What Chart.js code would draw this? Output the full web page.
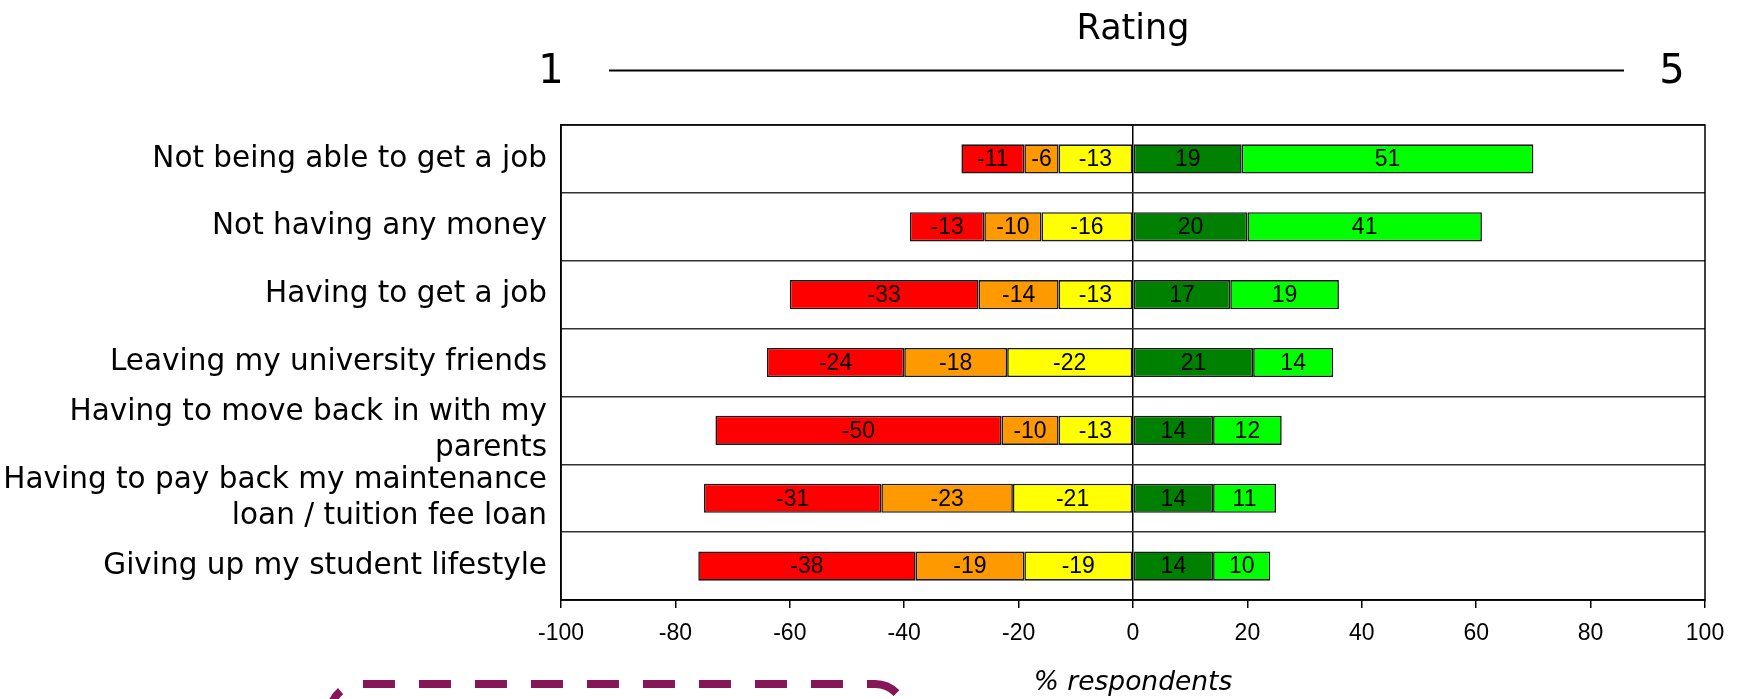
<!DOCTYPE html>
<html><head><meta charset="utf-8">
<script src="https://cdn.jsdelivr.net/npm/chart.js@4.4.0/dist/chart.umd.min.js"></script>
<style>html,body{margin:0;padding:0;background:#fff;overflow:hidden}#wrap{width:1742px;height:699px;position:relative}</style>
</head><body><div id="wrap"><canvas id="c" width="1742" height="699"></canvas></div>
<script>
const categories = [
  "Not being able to get a job",
  "Not having any money",
  "Having to get a job",
  "Leaving my university friends",
  ["Having to move back in with my", "parents"],
  ["Having to pay back my maintenance", "loan / tuition fee loan"],
  "Giving up my student lifestyle"
];
// negative side (stacked outward from zero): rating 3, rating 2, rating 1
const rating3 = [-13, -16, -13, -22, -13, -21, -19];
const rating2 = [-6, -10, -14, -18, -10, -23, -19];
const rating1 = [-11, -13, -33, -24, -50, -31, -38];
// positive side: rating 4, rating 5
const rating4 = [19, 20, 17, 21, 14, 14, 14];
const rating5 = [51, 41, 19, 14, 12, 11, 10];
const xMin = -100, xMax = 100, xStep = 20;
const ratingLow = "1", ratingHigh = "5", ratingTitle = "Rating";
const xTitle = "% respondents";

const labelPlugin = {
  id: 'barLabels',
  afterDatasetsDraw(chart) {
    const ctx = chart.ctx;
    ctx.save();
    ctx.font = '23px "Liberation Sans", Arial, sans-serif';
    ctx.fillStyle = '#000';
    ctx.textAlign = 'center';
    ctx.textBaseline = 'middle';
    chart.data.datasets.forEach((ds, i) => {
      const meta = chart.getDatasetMeta(i);
      meta.data.forEach((el, j) => {
        const p = el.getProps(['x', 'y', 'base'], true);
        ctx.fillText(String(ds.data[j]), (p.x + p.base) / 2, p.y + 1);
      });
    });
    ctx.restore();
  }
};

const decoPlugin = {
  id: 'deco',
  afterDraw(chart) {
    const ctx = chart.ctx;
    const a = chart.chartArea;
    const x0 = chart.scales.x.getPixelForValue(0);
    ctx.save();
    // plot border
    ctx.strokeStyle = '#000';
    ctx.lineWidth = 1.5;
    ctx.strokeRect(a.left, a.top, a.right - a.left, a.bottom - a.top);
    // rating header
    ctx.fillStyle = '#000';
    ctx.textAlign = 'center';
    ctx.textBaseline = 'middle';
    ctx.font = '35px "DejaVu Sans", Verdana, sans-serif';
    ctx.fillText(ratingTitle, x0, 30);
    ctx.font = '40px "DejaVu Sans", Verdana, sans-serif';
    ctx.fillText(ratingLow, 551, 73);
    ctx.fillText(ratingHigh, 1672, 73);
    ctx.lineWidth = 2;
    ctx.beginPath();
    ctx.moveTo(609, 70.5);
    ctx.lineTo(1624, 70.5);
    ctx.stroke();
    // dashed purple callout outline (partly off-canvas)
    ctx.strokeStyle = '#861657';
    ctx.lineWidth = 8;
    ctx.setLineDash([32, 24]);
    ctx.lineDashOffset = 16;
    ctx.beginPath();
    ctx.moveTo(330, 760);
    ctx.lineTo(330, 714);
    ctx.arcTo(330, 684, 360, 684, 30);
    ctx.lineTo(875, 684);
    ctx.arcTo(905, 684, 905, 714, 30);
    ctx.lineTo(905, 760);
    ctx.stroke();
    ctx.restore();
  }
};

const mk = (label, data, color) => ({
  label, data, backgroundColor: color, borderColor: '#1a1a1a', borderWidth: 1.6,
  borderSkipped: false, barPercentage: 0.43, categoryPercentage: 1
});

new Chart(document.getElementById('c'), {
  type: 'bar',
  data: {
    labels: categories,
    datasets: [
      mk('3', rating3, '#FFFF00'),
      mk('2', rating2, '#FF9900'),
      mk('1', rating1, '#FF0000'),
      mk('4', rating4, '#008000'),
      mk('5', rating5, '#00FF00')
    ]
  },
  options: {
    indexAxis: 'y',
    responsive: false,
    animation: false,
    devicePixelRatio: 1,
    layout: { padding: { top: 125, right: 37, left: 0, bottom: 0 } },
    plugins: { legend: { display: false }, tooltip: { enabled: false } },
    scales: {
      x: {
        stacked: true,
        min: xMin, max: xMax,
        afterFit(s) { s.height = 99; },
        ticks: { stepSize: xStep, color: '#000', padding: 12, maxRotation: 0,
                 font: { family: '"Liberation Sans", Arial, sans-serif', size: 23 } },
        grid: {
          color: (c) => (c.tick && c.tick.value === 0) ? '#000' : 'rgba(0,0,0,0)',
          lineWidth: 1.5, tickColor: '#000', tickLength: 8, drawTicks: true
        },
        border: { display: true, color: '#000', width: 1.5 },
        title: { display: true, text: xTitle, color: '#000', padding: { top: 0, bottom: 0 },
                 font: { family: '"DejaVu Sans", Verdana, sans-serif', size: 26.5, style: 'italic' } }
      },
      y: {
        stacked: true,
        afterFit(s) { s.width = 561; },
        ticks: { color: '#000', padding: 14, autoSkip: false,
                 font: { family: '"DejaVu Sans", Verdana, sans-serif', size: 29.5, lineHeight: 1.2 } },
        grid: { offset: true, color: '#333', lineWidth: 1.5, drawTicks: false },
        border: { display: true, color: '#000', width: 1.5 }
      }
    }
  },
  plugins: [labelPlugin, decoPlugin]
});
</script></body></html>
